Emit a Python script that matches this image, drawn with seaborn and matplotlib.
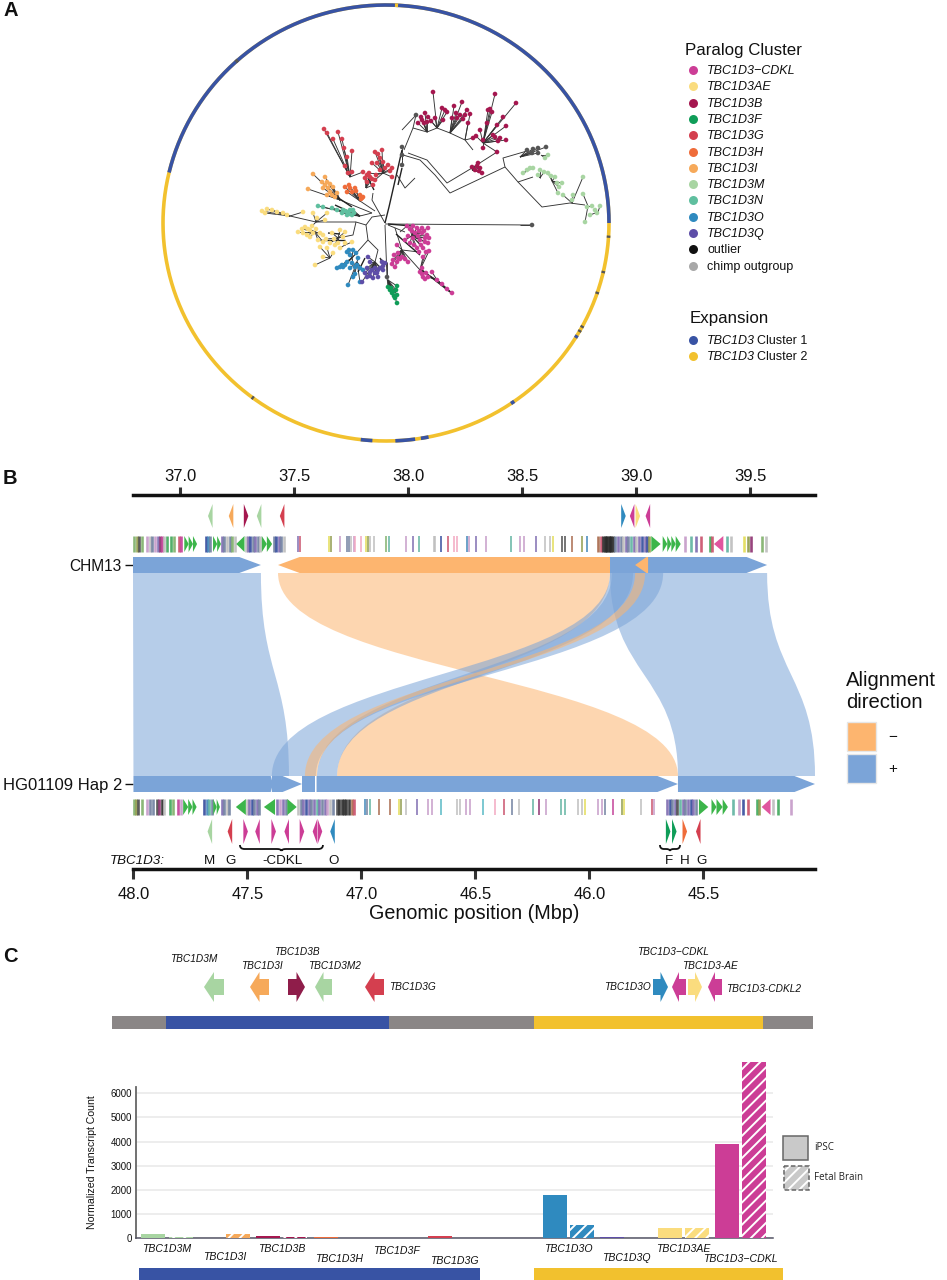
import numpy as np
import pandas as pd
import seaborn as sns
import matplotlib.pyplot as plt
from matplotlib.collections import LineCollection
from matplotlib.patches import Polygon, PathPatch, Rectangle
from matplotlib.path import Path

# ---------- panel A data (tree layout coordinates) ----------
cluster_names = ['TBC1D3\u2212CDKL', 'TBC1D3AE', 'TBC1D3B', 'TBC1D3F', 'TBC1D3G', 'TBC1D3H', 'TBC1D3I',
                 'TBC1D3M', 'TBC1D3N', 'TBC1D3O', 'TBC1D3Q', 'outlier', 'chimp outgroup']
cluster_colors = ['#cc3d96', '#fadc7e', '#a5174f', '#0f9d58', '#d43f4f', '#ef6c3a', '#f6a95a',
                  '#a8d5a2', '#5fbf9f', '#2f8abf', '#5e4ea8', '#111111', '#a8a8a8']
expansion_names = ['TBC1D3 Cluster 1', 'TBC1D3 Cluster 2']
expansion_colors = ['#3853a4', '#f2c12e']

cdkl_leaves = [(407, 226), (413, 226), (417, 228), (422, 228), (428, 228), (415, 233), (422, 233), (427, 235),
               (420, 240), (425, 242), (428, 243), (423, 248), (429, 251), (417, 248), (410, 243), (405, 240),
               (423, 257), (397, 245), (398, 253), (393, 260), (397, 262), (402, 257), (408, 262), (395, 267),
               (420, 272), (423, 277), (428, 277), (432, 272), (422, 268), (437, 280), (452, 293), (419, 231),
               (425, 238), (412, 231), (418, 236), (394, 255), (400, 259), (422, 274), (426, 273), (414, 245),
               (410, 229), (424, 231), (429, 238), (421, 245), (426, 252), (419, 252), (392, 264), (398, 258),
               (405, 259), (425, 279), (442, 284), (447, 289), (413, 238), (408, 236)]
ae_leaves = [(262, 211), (267, 209), (272, 210), (277, 212), (287, 215), (303, 212), (313, 213), (317, 218),
             (325, 220), (327, 213), (298, 232), (303, 233), (305, 227), (310, 230), (307, 235), (313, 233),
             (320, 233), (323, 235), (332, 233), (340, 230), (345, 232), (318, 240), (323, 242), (330, 243),
             (335, 245), (340, 248), (345, 243), (352, 242), (315, 265), (323, 257), (333, 253), (320, 247),
             (308, 229), (312, 226), (316, 229), (302, 229), (326, 239), (334, 239), (327, 248), (338, 243),
             (265, 213), (283, 213), (310, 237), (343, 237)]
b_leaves = [(433, 92), (425, 113), (422, 120), (418, 123), (427, 122), (428, 117), (435, 118), (442, 108),
            (443, 120), (447, 112), (454, 106), (462, 102), (452, 118), (457, 118), (460, 115), (467, 110),
            (465, 115), (468, 123), (495, 94), (488, 110), (492, 112), (516, 103), (503, 117), (497, 125),
            (506, 126), (487, 123), (480, 130), (473, 138), (483, 140), (493, 135), (500, 138), (506, 140),
            (483, 148), (497, 152), (472, 167), (478, 163), (480, 168), (482, 173), (475, 170), (421, 117),
            (431, 121), (445, 110), (456, 113), (463, 119), (470, 114), (490, 109), (495, 137), (498, 141),
            (477, 166), (479, 171), (476, 136), (424, 123)]
f_leaves = [(388, 287), (390, 290), (397, 286), (396, 290), (392, 293), (397, 295), (395, 298), (397, 303), (393, 292),
            (391, 288), (394, 296)]
g_leaves = [(324, 129), (327, 133), (333, 139), (338, 132), (342, 139), (344, 148), (347, 157), (352, 151),
            (345, 166), (352, 172), (348, 173), (375, 152), (382, 150), (372, 163), (377, 163), (380, 158),
            (383, 162), (388, 165), (392, 168), (363, 172), (367, 175), (370, 177), (375, 180), (373, 185),
            (367, 182), (392, 177), (380, 170), (365, 178), (372, 179), (369, 173), (376, 175), (385, 168),
            (390, 171), (378, 154)]
h_leaves = [(345, 187), (350, 188), (355, 188), (347, 192), (352, 192), (360, 195), (363, 197), (362, 198),
            (349, 185), (356, 191), (361, 199)]
i_leaves = [(313, 174), (325, 177), (327, 182), (322, 182), (323, 188), (328, 188), (308, 189), (327, 195),
            (332, 195), (337, 193), (333, 187), (330, 192), (325, 185), (330, 184), (335, 197)]
m_leaves = [(548, 155), (545, 158), (538, 175), (530, 168), (523, 173), (533, 168), (548, 173), (555, 177),
            (557, 183), (562, 183), (583, 177), (558, 193), (563, 195), (573, 195), (583, 194), (572, 200),
            (600, 206), (595, 210), (590, 215), (585, 222), (587, 207), (597, 213), (540, 170), (551, 176),
            (559, 187), (544, 172), (527, 170), (592, 206)]
n_leaves = [(318, 206), (323, 207), (332, 208), (337, 210), (343, 210), (348, 212), (353, 210), (347, 215),
            (352, 215), (342, 213), (345, 211), (350, 210), (349, 214), (354, 213)]
o_leaves = [(337, 268), (342, 265), (347, 262), (352, 263), (355, 267), (360, 268), (363, 270), (347, 252),
            (353, 250), (350, 255), (358, 258), (353, 277), (348, 285), (360, 282), (343, 267), (350, 268),
            (345, 265), (340, 267), (349, 250), (356, 253), (357, 265), (355, 274)]
q_leaves = [(362, 282), (367, 277), (370, 272), (375, 268), (380, 268), (383, 270), (373, 278), (377, 273),
            (382, 262), (385, 263), (370, 262), (368, 257), (378, 277), (367, 268), (372, 270), (378, 270),
            (375, 273), (370, 276), (383, 266), (365, 273)]
outlier_leaves = [(527, 150), (533, 149), (538, 148), (546, 147), (532, 153), (538, 153), (416, 115),
                  (402, 147), (402, 155), (402, 165), (532, 225), (387, 277)]

cluster_leaves = [cdkl_leaves, ae_leaves, b_leaves, f_leaves, g_leaves, h_leaves, i_leaves, m_leaves,
                  n_leaves, o_leaves, q_leaves, outlier_leaves]
cluster_hubs = [
    [(400, 232), (412, 236), (402, 250), (420, 270), (437, 280)],
    [(290, 216), (316, 222), (315, 232), (338, 238), (345, 245), (330, 258)],
    [(427, 132), (437, 128), (450, 133), (465, 140), (473, 150), (483, 143), (472, 170)],
    [(388, 280)],
    [(350, 177), (373, 193), (383, 173), (366, 188)],
    [(360, 201)],
    [(340, 200)],
    [(541, 155), (525, 172), (540, 178), (552, 181), (572, 203), (588, 206), (598, 212)],
    [(360, 216)],
    [(352, 258), (357, 262)],
    [(375, 262), (380, 258)],
    [(520, 157), (402, 160), (402, 130), (520, 225), (387, 262)],
]
tree_paths = [
    [(403, 155), (420, 160), (435, 175), (450, 193), (505, 167), (503, 158), (527, 151)],
    [(505, 167), (512, 175), (518, 182), (533, 177)],
    [(518, 182), (542, 207), (570, 203), (585, 205)],
    [(408, 153), (427, 160), (447, 183), (472, 168), (497, 152)],
    [(404, 150), (413, 128), (427, 132), (437, 128), (450, 133), (465, 140), (473, 150)],
    [(413, 128), (416, 115)],
    [(397, 175), (405, 188), (415, 178)],
    [(385, 223), (372, 200), (373, 193)],
    [(375, 211), (360, 201)],
    [(372, 213), (340, 200)],
    [(372, 213), (360, 216)],
    [(385, 215), (372, 217), (366, 225), (368, 240), (378, 250), (375, 262)],
    [(366, 225), (356, 222), (353, 235), (338, 238)],
    [(356, 222), (330, 222), (316, 222), (290, 216)],
    [(368, 240), (352, 258)],
    [(385, 225), (387, 277), (388, 287)],
    [(388, 225), (405, 232)],
    [(395, 228), (402, 250), (420, 270), (437, 280), (452, 293)],
    [(385, 224), (532, 225)],
]
# heavier dark runs where many short branches stack up
stacked_paths = [
    [(385, 223), (389, 207), (402, 150)],
    [(388, 224), (412, 226)],
    [(396, 234), (420, 255)],
    [(422, 270), (450, 292)],
    [(337, 197), (352, 207)],
    [(335, 205), (350, 212)],
    [(368, 178), (374, 190)],
    [(328, 233), (340, 234)],
    [(320, 240), (345, 240)],
    [(365, 258), (358, 272)],
    [(402, 168), (398, 185)],
]

ring_start = [-180, 0, 86.9, 131.6, -3.9, -13.3, -19, -28.7, -30, -31.8, -55.9, -96.5, -87.6, -81, -127]
ring_end = [180, 166.6, 87.7, 132.4, -3.3, -12.7, -18.4, -28.1, -29.4, -31, -54.9, -93.5, -82.5, -79, -126.4]
ring_kind = ['y', 'b', 'y', 'k', 'k', 'k', 'k', 'k', 'k', 'b', 'b', 'b', 'b', 'b', 'k']

# ---------- panel B data (Mbp) ----------
chm13_ticks = [37.0, 37.5, 38.0, 38.5, 39.0, 39.5]
hap_ticks = [48.0, 47.5, 47.0, 46.5, 46.0, 45.5]

chm13_aln_start = [36.794, 37.430, 38.886, 38.996]
chm13_aln_end = [37.355, 38.886, 39.575, 39.053]
chm13_aln_strand = ['+', '-', '+', '-']
chm13_aln_head = [0.095, 0.095, 0.09, 0.05]
hap_aln_start = [48.0, 47.393, 47.261, 47.197, 45.612]
hap_aln_end = [47.388, 47.261, 47.203, 45.612, 45.011]
hap_aln_strand = ['+', '+', '+', '+', '+']
hap_aln_head = [0.01, 0.085, 0.0, 0.09, 0.09]

ribbon_chm_a = [36.794, 37.430, 38.886, 38.886, 38.895, 38.996]
ribbon_chm_b = [37.355, 38.886, 39.575, 39.119, 38.987, 39.040]
ribbon_hap_a = [48.0, 45.612, 45.612, 47.393, 47.195, 47.248]
ribbon_hap_b = [47.318, 47.107, 45.011, 47.200, 47.107, 47.195]
ribbon_strand = ['+', '-', '+', '+', '+', '-']

gene_palette = {'g': '#7fb069', 'o': '#8f9a4a', 'd': '#4a4a4a', 'm': '#c59ac8', 's': '#6f7f9f', 'p': '#7d6bb0',
                'w': '#8c2f6f', 'a': '#c23f96', 'e': '#bdbdbd', 'r': '#c9506a', 'n': '#334a9c', 'b': '#3f85b8',
                't': '#5fb3a0', 'y': '#e3dc55', 'k': '#2a2a2a', 'c': '#a8684a', 'i': '#f2a6c0', 'q': '#55b8c4',
                'u': '#3fa85a'}
arrow_green = '#3cb54a'

chm13_left_genes = [(36.800, 'g'), (36.812, 'o'), (36.822, 'd'), (36.834, 'g'), (36.857, 'm'), (36.867, 'e'),
                    (36.878, 's'), (36.889, 'm'), (36.902, 'p'), (36.911, 'w'), (36.923, 'a'), (36.932, 'e'),
                    (36.943, 'u'), (36.962, 'u'), (36.973, 'g'), (36.995, 'r'), (37.003, 'a'), (37.112, 'n'),
                    (37.122, 'b'), (37.133, 's'), (37.186, 'p'), (37.195, 's'), (37.207, 'e'), (37.218, 's'),
                    (37.230, 'g'), (37.242, 'e'), (37.290, 'e'), (37.299, 'p'), (37.309, 'n'), (37.321, 's'),
                    (37.331, 'p'), (37.343, 's'), (37.353, 'e'), (37.411, 's'), (37.421, 'n'), (37.433, 'p'),
                    (37.445, 's'), (37.455, 'e')]
chm13_mid_genes = [(37.517, 'p'), (37.528, 'r'), (37.654, 'y'), (37.663, 'o'), (37.702, 'm'), (37.734, 's'),
                   (37.743, 's'), (37.750, 'e'), (37.762, 'm'), (37.769, 'i'), (37.794, 'i'), (37.818, 'y'),
                   (37.825, 'o'), (37.835, 'e'), (37.853, 'e'), (37.904, 'g'), (37.916, 't'), (37.993, 'm'),
                   (38.022, 'p'), (38.050, 't'), (38.113, 'e'), (38.120, 'e'), (38.144, 'n'), (38.174, 'r'),
                   (38.201, 'i'), (38.215, 'i'), (38.259, 'b'), (38.267, 'm'), (38.297, 'p'), (38.344, 'm'),
                   (38.453, 't'), (38.491, 'm'), (38.508, 'm'), (38.560, 'p'), (38.603, 'e'), (38.621, 'e'),
                   (38.637, 'y'), (38.674, 'd'), (38.688, 'd'), (38.720, 'c'), (38.761, 'o'), (38.783, 'b')]
chm13_right_genes = [(38.834, 'c'), (38.845, 'r'), (38.856, 'k'), (38.862, 'k'), (38.868, 'k'), (38.874, 'k'),
                     (38.880, 'k'), (38.886, 'k'), (38.892, 'k'), (38.898, 'k'), (38.910, 's'), (38.921, 'p'),
                     (38.932, 's'), (38.944, 'e'), (38.956, 'p'), (38.967, 's'), (38.979, 't'), (38.991, 'p'),
                     (39.002, 'e'), (39.014, 'p'), (39.026, 'n'), (39.038, 'p'), (39.049, 'n'), (39.058, 'o'),
                     (39.217, 'm'), (39.242, 't'), (39.261, 'p'), (39.283, 'r'), (39.323, 'u'), (39.334, 'r'),
                     (39.400, 't'), (39.415, 'e'), (39.473, 'y'), (39.491, 'o'), (39.505, 'w'), (39.551, 'g'),
                     (39.568, 'e')]
chm13_arrows = [(37.019, 37.038, 1), (37.038, 37.057, 1), (37.057, 37.075, 1), (37.145, 37.163, 1),
                (37.163, 37.180, 1), (37.247, 37.283, -1), (37.359, 37.381, 1), (37.381, 37.404, 1),
                (39.067, 39.108, 1), (39.117, 39.137, 1), (39.137, 39.155, 1), (39.155, 39.174, 1),
                (39.174, 39.196, 1)]
chm13_pink_arrows = [(39.342, 39.383, -1)]

hap_left_genes = [(47.998, 'g'), (47.989, 'o'), (47.979, 'd'), (47.964, 'g'), (47.942, 'm'), (47.928, 's'),
                  (47.913, 's'), (47.898, 'd'), (47.887, 'w'), (47.875, 'k'), (47.866, 'e'), (47.840, 'u'),
                  (47.825, 'g'), (47.803, 'a'), (47.793, 'm'), (47.691, 'n'), (47.679, 'b'), (47.667, 't'),
                  (47.657, 's'), (47.613, 'p'), (47.603, 's'), (47.591, 'e'), (47.580, 's'), (47.504, 'e'),
                  (47.493, 'p'), (47.482, 'n'), (47.472, 's'), (47.460, 'p'), (47.448, 's'), (47.372, 'p'),
                  (47.358, 'm'), (47.343, 'p'), (47.331, 's')]
hap_block_genes = [(47.277, 'e'), (47.267, 's'), (47.255, 'p'), (47.243, 'n'), (47.232, 'p'), (47.220, 's'),
                   (47.208, 'p'), (47.197, 't'), (47.185, 'p'), (47.173, 's'), (47.162, 'p'), (47.150, 'm'),
                   (47.138, 'e'), (47.124, 's'), (47.106, 'd'), (47.097, 'k'), (47.087, 'k'), (47.077, 'k'),
                   (47.067, 'k'), (47.056, 'k'), (47.043, 'c'), (47.033, 'r')]
hap_mid_genes = [(46.985, 'b'), (46.977, 's'), (46.963, 't'), (46.922, 'c'), (46.875, 'c'), (46.836, 'y'),
                 (46.827, 'o'), (46.805, 'e'), (46.758, 'p'), (46.707, 'm'), (46.689, 'm'), (46.653, 'q'),
                 (46.583, 'e'), (46.568, 'e'), (46.542, 'm'), (46.524, 'm'), (46.466, 'q'), (46.415, 'i'),
                 (46.374, 'r'), (46.342, 's'), (46.308, 'e'), (46.247, 't'), (46.220, 'w'), (46.191, 'm'),
                 (46.123, 't'), (46.108, 't'), (46.049, 'e'), (46.035, 'e'), (46.020, 'y'), (45.962, 'm'),
                 (45.947, 'm'), (45.932, 's'), (45.899, 'a'), (45.859, 'o'), (45.849, 'y'), (45.772, 'e'),
                 (45.728, 'r'), (45.716, 'm')]
hap_right_genes = [(45.658, 'p'), (45.647, 'n'), (45.636, 's'), (45.625, 'p'), (45.615, 'd'), (45.604, 't'),
                   (45.592, 'p'), (45.580, 's'), (45.568, 'p'), (45.557, 'n'), (45.545, 'p'), (45.533, 's'),
                   (45.370, 't'), (45.345, 'm'), (45.326, 'n'), (45.304, 'r'), (45.267, 'u'), (45.256, 'o'),
                   (45.194, 'e'), (45.175, 'u'), (45.117, 'm')]
hap_arrows = [(47.782, 47.760, 1), (47.760, 47.741, 1), (47.741, 47.723, 1), (47.650, 47.635, 1),
              (47.635, 47.621, 1), (47.551, 47.507, -1), (47.428, 47.379, -1), (47.325, 47.284, 1),
              (45.520, 45.479, 1), (45.465, 45.443, 1), (45.443, 45.416, 1), (45.416, 45.393, 1)]
hap_pink_arrows = [(45.245, 45.206, -1)]

chm13_paralog_pos = [37.133, 37.224, 37.290, 37.347, 37.448, 38.945, 38.983, 39.008, 39.052]
chm13_paralog_dir = [-1, -1, 1, -1, -1, 1, -1, 1, -1]
chm13_paralog_kind = ['TBC1D3M', 'TBC1D3I', 'TBC1D3B', 'TBC1D3M', 'TBC1D3G', 'TBC1D3O', 'TBC1D3\u2212CDKL', 'TBC1D3AE', 'TBC1D3\u2212CDKL']
hap_paralog_pos = [47.665, 47.577, 47.508, 47.456, 47.385, 47.328, 47.261, 47.204, 47.182, 47.127, 45.655, 45.628, 45.582, 45.523]
hap_paralog_dir = [-1, -1, 1, -1, 1, -1, 1, -1, 1, -1, 1, 1, 1, -1]
hap_paralog_kind = ['TBC1D3M', 'TBC1D3G'] + ['TBC1D3\u2212CDKL'] * 7 + ['TBC1D3O', 'TBC1D3F', 'TBC1D3F', 'TBC1D3H', 'TBC1D3G']

hap_letters = ['M', 'G', '-CDKL', 'O', 'F', 'H', 'G']
hap_letter_pos = [47.667, 47.573, 47.345, 47.124, 45.651, 45.581, 45.507]

# ---------- panel C data ----------
map_start = [112, 166, 389, 534, 763]
map_end = [166, 389, 534, 763, 813]
map_color = ['#8a8686', '#3853a4', '#8a8686', '#f2c12e', '#8a8686']

map_gene_start = [204, 250, 288, 315, 365, 653, 672, 688, 708]
map_gene_end = [224, 269, 305, 332, 384, 668, 686, 702, 722]
map_gene_dir = [-1, -1, 1, -1, -1, 1, -1, 1, -1]
map_gene_color = ['#a8d5a2', '#f6a95a', '#8f1d4a', '#a8d5a2', '#d43f4f', '#2f8abf', '#cc3d96', '#fadc7e', '#cc3d96']
map_label = ['TBC1D3M', 'TBC1D3I', 'TBC1D3B', 'TBC1D3M2', 'TBC1D3G', 'TBC1D3\u2212CDKL', 'TBC1D3-AE', 'TBC1D3O', 'TBC1D3-CDKL2']
map_label_x = [194, 262, 297, 335, 412, 673, 710, 627, 764]
map_label_y = [959, 966, 952, 966, 987, 952, 966, 987, 989]

paralogs = ['TBC1D3M', 'TBC1D3I', 'TBC1D3B', 'TBC1D3H', 'TBC1D3F', 'TBC1D3G', ' ',
            'TBC1D3O', 'TBC1D3Q', 'TBC1D3AE', 'TBC1D3\u2212CDKL']
ipsc_counts = [170, 20, 100, 30, 20, 80, 0, 1800, 30, 400, 3900]
fetal_counts = [40, 160, 50, 20, 15, 20, 0, 520, 10, 430, 7300]
paralog_colors = ['#a8d5a2', '#f6a95a', '#a5174f', '#ef6c3a', '#5fbf9f', '#d43f4f', '#ffffff',
                  '#2f8abf', '#5e4ea8', '#fadc7e', '#cc3d96']
label_pads = [4.2, 10, 4.2, 11.4, 5.6, 12.8, 0, 4.2, 10.6, 4.2, 11.4]

# ---------- figure ----------
sns.set_theme(style='white')
plt.rcParams['font.family'] = ['Liberation Sans', 'DejaVu Sans']
plt.rcParams['hatch.linewidth'] = 1.4

W, H = 947, 1280
fig = plt.figure(figsize=(W / 100, H / 100), dpi=100)


def px_rect(x0, y0, x1, y1):
    return [x0 / W, 1 - y1 / H, (x1 - x0) / W, (y1 - y0) / H]


ax_px = fig.add_axes([0, 0, 1, 1])
ax_px.patch.set_alpha(0)

# panel letters
for letter, ly in zip(['A', 'B', 'C'], [10, 478, 957]):
    ax_px.text(3, ly, letter, fontsize=14.5, fontweight='bold', va='center', color='#111111')

# ---- panel A: ring
ring_cx, ring_cy, ring_rx, ring_ry = 386, 223, 223, 218
ring_colors = {'y': '#f2c12e', 'b': '#3853a4', 'k': '#555555'}
for a0, a1, kind in zip(ring_start, ring_end, ring_kind):
    t = np.radians(np.linspace(a0, a1, max(int(abs(a1 - a0) * 2), 2)))
    ax_px.plot(ring_cx + ring_rx * np.cos(t), ring_cy - ring_ry * np.sin(t), color=ring_colors[kind],
               lw=2.6, solid_capstyle='butt')

# ---- panel A: tree
segs = [list(p) for p in tree_paths]
for leaves, hubs in zip(cluster_leaves, cluster_hubs):
    hubs_arr = np.array(hubs, dtype=float)
    for leaf in leaves:
        d = np.hypot(*(hubs_arr - np.array(leaf)).T)
        segs.append([leaf, tuple(hubs_arr[d.argmin()])])
ax_px.add_collection(LineCollection(segs, colors='#333333', linewidths=0.65, zorder=2))
ax_px.add_collection(LineCollection(stacked_paths, colors='#222222', linewidths=1.0, zorder=2))

tree_rows = []
for name, leaves in zip(cluster_names, cluster_leaves):
    for lx, ly in leaves:
        tree_rows.append({'x': lx, 'y': ly, 'cluster': name})
tree_df = pd.DataFrame(tree_rows)
tree_pal = dict(zip(cluster_names, cluster_colors))
tree_pal['outlier'] = '#555555'
sns.scatterplot(data=tree_df, x='x', y='y', hue='cluster', palette=tree_pal, s=11, linewidth=0,
                legend=False, ax=ax_px, zorder=3)

# ---- panel A: legends
ax_px.text(685, 50, 'Paralog Cluster', fontsize=12.2, va='center', color='#111111')
for i, (name, col) in enumerate(zip(cluster_names, cluster_colors)):
    iy = 70 + 16.3 * i
    ax_px.scatter([693], [iy], s=42, color=col, linewidth=0, zorder=3)
    style = 'italic' if name.startswith('TBC') else 'normal'
    ax_px.text(707, iy + 1, name, fontsize=9, style=style, va='center', color='#111111')
ax_px.text(690, 318, 'Expansion', fontsize=12.2, va='center', color='#111111')
for i, (name, col) in enumerate(zip(expansion_names, expansion_colors)):
    iy = 340 + 16.3 * i
    ax_px.scatter([693], [iy], s=42, color=col, linewidth=0, zorder=3)
    ax_px.text(707, iy + 1, 'TBC1D3', fontsize=9, style='italic', va='center', color='#111111')
    ax_px.text(757, iy + 1, name.split(' ', 1)[1], fontsize=9, va='center', color='#111111')

# ---- panel B
ax_gen = fig.add_axes(px_rect(133, 495, 815, 869))
ax_gen.patch.set_alpha(0)
ax_gen.set_xlim(36.794, 39.785)
ax_gen.set_ylim(869, 495)

strand_colors = {'+': '#7ba4d8', '-': '#fdb56f'}


def hap_x(h):
    return 84.796 - np.asarray(h)


def x_hap(x):
    return 84.796 - np.asarray(x)


chm_top, chm_bot = 557, 573
hap_top, hap_bot = 776, 792
mid_y = (chm_bot + hap_top) / 2


def aln_arrow(start, end, strand, top, bot, head):
    mid = (top + bot) / 2
    if strand == '+':
        pts = [(start, top), (end - head, top), (end, mid), (end - head, bot), (start, bot)]
    else:
        pts = [(end, top), (start + head, top), (start, mid), (start + head, bot), (end, bot)]
    return pts


for ca, cb, ha, hb, s in zip(ribbon_chm_a, ribbon_chm_b, ribbon_hap_a, ribbon_hap_b, ribbon_strand):
    xa, xb = hap_x(ha), hap_x(hb)
    verts = [(ca, chm_bot), (ca, mid_y), (xa, mid_y), (xa, hap_top), (xb, hap_top),
             (xb, mid_y), (cb, mid_y), (cb, chm_bot), (ca, chm_bot)]
    codes = [Path.MOVETO, Path.CURVE4, Path.CURVE4, Path.CURVE4, Path.LINETO,
             Path.CURVE4, Path.CURVE4, Path.CURVE4, Path.CLOSEPOLY]
    ax_gen.add_patch(PathPatch(Path(verts, codes), facecolor=strand_colors[s], alpha=0.55, lw=0, zorder=1))

for a, b, s, hd in zip(chm13_aln_start, chm13_aln_end, chm13_aln_strand, chm13_aln_head):
    ax_gen.add_patch(Polygon(aln_arrow(a, b, s, chm_top, chm_bot, hd), facecolor=strand_colors[s], lw=0, zorder=2))
for a, b, s, hd in zip(hap_aln_start, hap_aln_end, hap_aln_strand, hap_aln_head):
    ax_gen.add_patch(Polygon(aln_arrow(hap_x(a), hap_x(b), s, hap_top, hap_bot, hd), facecolor=strand_colors[s],
                             lw=0, zorder=2))


def gene_ticks(ax, genes, top, bot, lw, to_x=lambda v: v):
    xs = [float(to_x(g[0])) for g in genes]
    cols = [gene_palette[g[1]] for g in genes]
    ax.vlines(xs, top, bot, colors=cols, linewidth=lw, alpha=0.9, zorder=2)


def gene_arrows(ax, arrows, top, bot, color, to_x=lambda v: v):
    mid = (top + bot) / 2
    for a, b, d in arrows:
        xa, xb = float(to_x(a)), float(to_x(b))
        lo, hi = min(xa, xb), max(xa, xb)
        pts = [(lo, top), (hi, mid), (lo, bot)] if d > 0 else [(hi, top), (lo, mid), (hi, bot)]
        ax.add_patch(Polygon(pts, facecolor=color, lw=0, zorder=3))


gene_ticks(ax_gen, chm13_left_genes, 536, 552, 1.9)
gene_ticks(ax_gen, chm13_mid_genes, 536, 552, 1.2)
gene_ticks(ax_gen, chm13_right_genes, 536, 552, 1.9)
gene_arrows(ax_gen, chm13_arrows, 536, 552, arrow_green)
gene_arrows(ax_gen, chm13_pink_arrows, 536, 552, '#e0569f')
gene_ticks(ax_gen, hap_left_genes, 799, 815, 1.9, hap_x)
gene_ticks(ax_gen, hap_block_genes, 799, 815, 1.9, hap_x)
gene_ticks(ax_gen, hap_mid_genes, 799, 815, 1.2, hap_x)
gene_ticks(ax_gen, hap_right_genes, 799, 815, 1.9, hap_x)
gene_arrows(ax_gen, hap_arrows, 799, 815, arrow_green, hap_x)
gene_arrows(ax_gen, hap_pink_arrows, 799, 815, '#e0569f', hap_x)


def paralog_marks(ax, pos, dirs, kinds, top, bot):
    mid = (top + bot) / 2
    half = 0.010
    for p, d, k in zip(pos, dirs, kinds):
        ax.add_patch(Polygon([(p - d * half, top), (p + d * half, mid), (p - d * half, bot)],
                             facecolor=tree_pal[k], lw=0, zorder=3))


paralog_marks(ax_gen, chm13_paralog_pos, chm13_paralog_dir, chm13_paralog_kind, 504, 528)
paralog_marks(ax_gen, hap_x(hap_paralog_pos), hap_paralog_dir, hap_paralog_kind, 819, 844)


def brace(ax, x0, x1, y, h=4):
    xm = (x0 + x1) / 2
    dx = min(0.02, (x1 - x0) / 5)
    verts = [(x0, y - h), (x0, y), (x0 + dx, y), (xm - dx, y), (xm, y), (xm, y + h / 2),
             (xm, y), (xm + dx, y), (x1 - dx, y), (x1, y), (x1, y - h)]
    codes = [Path.MOVETO, Path.CURVE3, Path.CURVE3, Path.LINETO, Path.CURVE3, Path.CURVE3,
             Path.CURVE3, Path.CURVE3, Path.LINETO, Path.CURVE3, Path.CURVE3]
    ax.add_patch(PathPatch(Path(verts, codes), facecolor='none', edgecolor='#111111', lw=1.3, zorder=3))


brace(ax_gen, hap_x(47.533), hap_x(47.169), 849)
brace(ax_gen, hap_x(45.691), hap_x(45.603), 849)

for lab, p in zip(hap_letters, hap_letter_pos):
    ax_gen.text(hap_x(p), 861, lab, fontsize=9.6, ha='center', va='center', color='#111111')
ax_px.text(165, 861, 'TBC1D3:', fontsize=9.6, style='italic', ha='right', va='center', color='#111111')

# axes styling for the two genome scales
for side in ['left', 'right']:
    ax_gen.spines[side].set_visible(False)
for side in ['top', 'bottom']:
    ax_gen.spines[side].set_linewidth(2.5)
    ax_gen.spines[side].set_color('#111111')
ax_gen.xaxis.tick_top()
ax_gen.set_xticks(chm13_ticks)
ax_gen.set_xticklabels(['%.1f' % v for v in chm13_ticks])
ax_gen.tick_params(axis='x', length=6, width=2.2, color='#333333', labelsize=12, pad=2, labelcolor='#111111')
ax_gen.tick_params(axis='y', left=True, length=6, width=1, color='#111111', labelsize=11.6, pad=2,
                   labelcolor='#111111')
ax_gen.set_yticks([(chm_top + chm_bot) / 2, (hap_top + hap_bot) / 2])
ax_gen.set_yticklabels(['CHM13', 'HG01109 Hap 2'])
ax_gen.get_yticklabels()[0].set_fontsize(11.2)
ax_gen.get_yticklabels()[1].set_fontsize(12)

sec = ax_gen.secondary_xaxis('bottom', functions=(x_hap, x_hap))
sec.set_xticks(hap_ticks)
sec.set_xticklabels(['%.1f' % v for v in hap_ticks])
sec.tick_params(axis='x', length=7, width=2.2, color='#333333', labelsize=12, pad=6.2, labelcolor='#111111')
sec.spines['bottom'].set_visible(False)
sec.set_xlabel('Genomic position (Mbp)', fontsize=14.2, labelpad=1, color='#111111')

# alignment legend
ax_px.text(846, 680, 'Alignment', fontsize=14.6, va='center', color='#111111')
ax_px.text(846, 702, 'direction', fontsize=14.6, va='center', color='#111111')
for sy, s, lab in zip([722, 754], ['-', '+'], ['\u2212', '+']):
    ax_px.add_patch(Rectangle((847, sy), 29, 29, facecolor=strand_colors[s], edgecolor='#e6e6e6', lw=1))
    ax_px.text(888, sy + 15, lab, fontsize=11, va='center', color='#111111')

# ---- panel C: gene map
for a, b, c in zip(map_start, map_end, map_color):
    ax_px.add_patch(Rectangle((a, 1016), b - a, 13, facecolor=c, lw=0))
for a, b, d, c in zip(map_gene_start, map_gene_end, map_gene_dir, map_gene_color):
    ym = 987
    neck = a + (b - a) * 0.5 if d < 0 else b - (b - a) * 0.5
    if d < 0:
        pts = [(a, ym), (neck, ym - 15), (neck, ym - 8), (b, ym - 8), (b, ym + 8), (neck, ym + 8), (neck, ym + 15)]
    else:
        pts = [(b, ym), (neck, ym - 15), (neck, ym - 8), (a, ym - 8), (a, ym + 8), (neck, ym + 8), (neck, ym + 15)]
    ax_px.add_patch(Polygon(pts, facecolor=c, lw=0))
for lab, lx, ly in zip(map_label, map_label_x, map_label_y):
    ax_px.text(lx, ly, lab, fontsize=7.3, style='italic', ha='center', va='center', color='#111111')

# ---- panel C: barplot
ax_bar = fig.add_axes(px_rect(136, 1062, 773, 1238))
ax_bar.patch.set_alpha(0)
bar_df = pd.DataFrame({'paralog': paralogs * 2,
                       'count': ipsc_counts + fetal_counts,
                       'sample': ['iPSC'] * len(paralogs) + ['Fetal Brain'] * len(paralogs)})
sns.barplot(data=bar_df, x='paralog', y='count', hue='sample', order=paralogs, hue_order=['iPSC', 'Fetal Brain'],
            width=0.95, gap=0.12, legend=False, errorbar=None, ax=ax_bar, zorder=3)
for bar, col in zip(ax_bar.containers[0], paralog_colors):
    bar.set_facecolor(col)
    bar.set_edgecolor(col)
    bar.set_linewidth(0)
for bar, col in zip(ax_bar.containers[1], paralog_colors):
    bar.set_facecolor(col)
    bar.set_edgecolor('white')
    bar.set_hatch('///')
    bar.set_linewidth(0)

ax_bar.set_xlim(-0.54, 10.56)
ax_bar.set_ylim(0, 7300)
ax_bar.set_yticks([0, 1000, 2000, 3000, 4000, 5000, 6000])
ax_bar.yaxis.grid(True, color='#ececec', lw=1.3, zorder=0)
ax_bar.set_axisbelow(True)
ax_bar.tick_params(axis='y', labelsize=6.9, length=0, pad=3, labelcolor='#111111')
ax_bar.set_ylabel('Normalized Transcript Count', fontsize=7.6, color='#111111')
ax_bar.yaxis.set_label_coords(-0.061, 0.432)
ax_bar.set_xlabel('')
ax_bar.tick_params(axis='x', length=0, labelsize=7.6)
for tick, pad in zip(ax_bar.xaxis.get_major_ticks(), label_pads):
    tick.set_pad(pad)
for lab in ax_bar.get_xticklabels():
    lab.set_style('italic')
    lab.set_color('#111111')
for side in ['top', 'right']:
    ax_bar.spines[side].set_visible(False)
ax_bar.spines['left'].set_bounds(0, 6250)
ax_bar.spines['left'].set_color('#666666')
ax_bar.spines['left'].set_linewidth(1.3)
ax_bar.spines['bottom'].set_color('#555566')
ax_bar.spines['bottom'].set_linewidth(1.1)

# expansion strips under the bars and sample legend
ax_px.add_patch(Rectangle((139, 1268), 341, 12, facecolor='#3853a4', lw=0))
ax_px.add_patch(Rectangle((534, 1268), 249, 12, facecolor='#f2c12e', lw=0))
ax_px.add_patch(Rectangle((783, 1136), 25, 24, facecolor='#c9c9c9', edgecolor='#666666', lw=1.1))
ax_px.add_patch(Rectangle((784, 1166), 25, 24, facecolor='#c9c9c9', edgecolor='white', lw=0, hatch='///'))
ax_px.add_patch(Rectangle((784, 1166), 25, 24, facecolor='none', edgecolor='#666666', lw=1.1, ls=(0, (3, 1.5))))
ax_px.text(814, 1148, 'iPSC', fontsize=7, family='Open Sans', va='center', color='#222222')
ax_px.text(814, 1178, 'Fetal Brain', fontsize=7, family='Open Sans', va='center', color='#222222')

ax_px.set_xlim(0, W)
ax_px.set_ylim(H, 0)
ax_px.axis('off')

fig.savefig('out.png', dpi=100)
